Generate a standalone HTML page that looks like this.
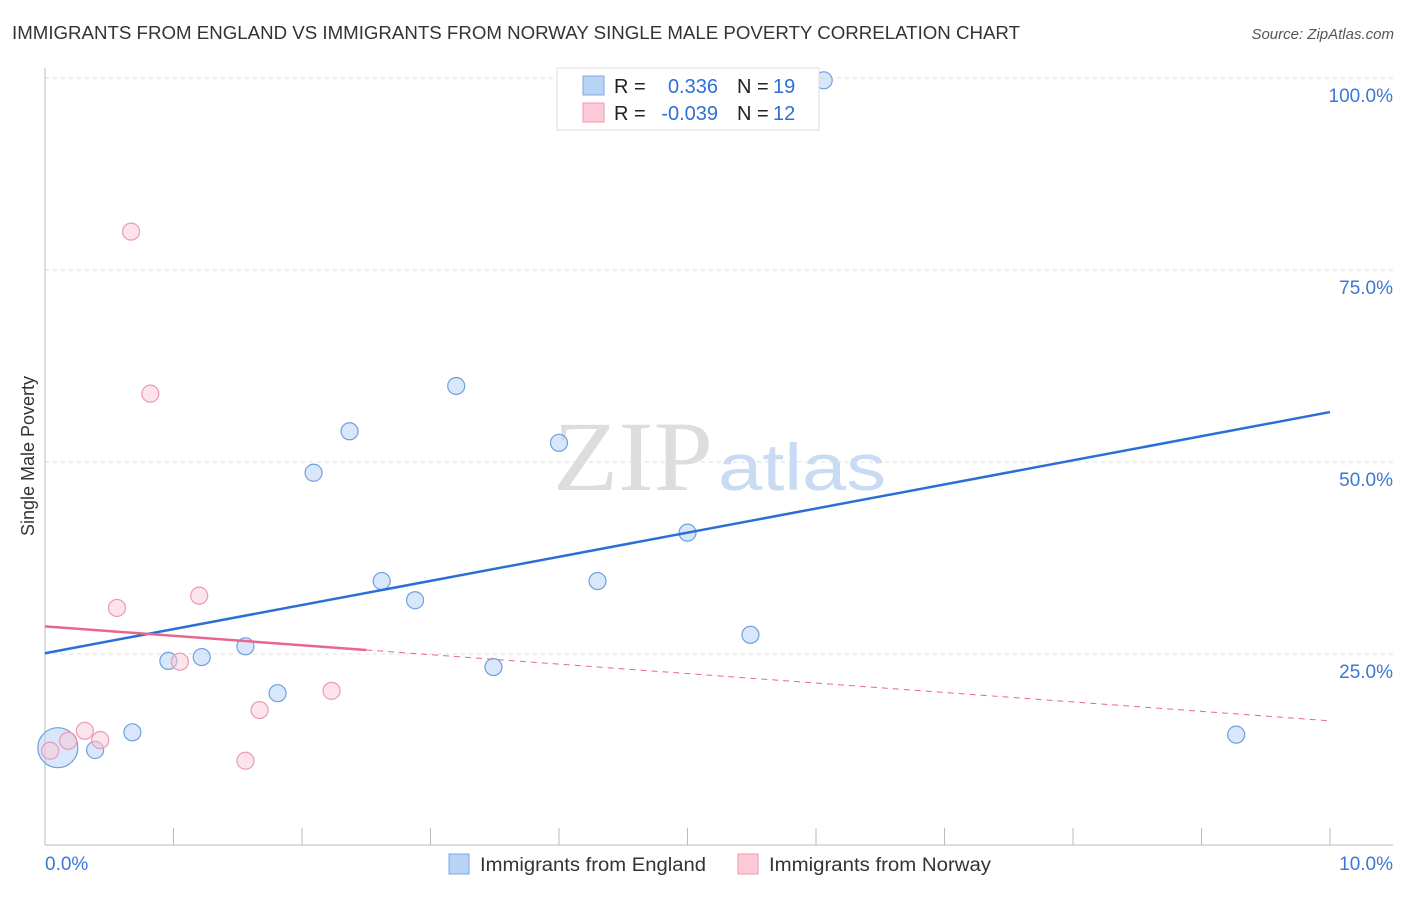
<!DOCTYPE html>
<html><head><meta charset="utf-8"><style>
body{margin:0;background:#fff;font-family:"Liberation Sans",sans-serif}
</style></head><body>
<svg id="c" width="1406" height="892" xmlns="http://www.w3.org/2000/svg">
<text x="12" y="39" font-size="18" fill="#333" textLength="1008" lengthAdjust="spacingAndGlyphs">IMMIGRANTS FROM ENGLAND VS IMMIGRANTS FROM NORWAY SINGLE MALE POVERTY CORRELATION CHART</text>
<text x="1394" y="39" font-size="15" fill="#555" font-style="italic" text-anchor="end">Source: ZipAtlas.com</text>
<text x="553" y="490" font-size="100" fill="#ddd" font-family="Liberation Serif,serif" textLength="160" lengthAdjust="spacingAndGlyphs">ZIP</text>
<text x="718" y="490" font-size="66" fill="#c9daf3" textLength="168" lengthAdjust="spacingAndGlyphs">atlas</text>
<text transform="translate(34,456) rotate(-90)" font-size="18" fill="#333" text-anchor="middle">Single Male Poverty</text>
<g id="grid"></g><g id="marks"></g>
<rect x="557" y="68" width="262" height="62" fill="#fff" stroke="#ddd"/>
<rect x="583" y="76" width="21" height="19" fill="#b9d3f7" stroke="#7aa7e6"/>
<rect x="583" y="103" width="21" height="19" fill="#fcc9d7" stroke="#eb9ab2"/>
<g font-size="20">
<text x="614" y="93" fill="#222">R =</text><text x="718" y="93" fill="#2f6fd6" text-anchor="end">0.336</text>
<text x="737" y="93" fill="#222">N =</text><text x="773" y="93" fill="#2f6fd6">19</text>
<text x="614" y="120" fill="#222">R =</text><text x="718" y="120" fill="#2f6fd6" text-anchor="end">-0.039</text>
<text x="737" y="120" fill="#222">N =</text><text x="773" y="120" fill="#2f6fd6">12</text>
</g>
<rect x="449" y="854" width="20" height="20" fill="#b9d3f7" stroke="#7aa7e6"/>
<text x="480" y="871" font-size="19" fill="#333" textLength="226" lengthAdjust="spacingAndGlyphs">Immigrants from England</text>
<rect x="738" y="854" width="20" height="20" fill="#fcc9d7" stroke="#eb9ab2"/>
<text x="769" y="871" font-size="19" fill="#333" textLength="222" lengthAdjust="spacingAndGlyphs">Immigrants from Norway</text>
<text x="45" y="870" font-size="19" fill="#3a78d8">0.0%</text>
<text x="1393" y="870" font-size="19" fill="#3a78d8" text-anchor="end">10.0%</text>
</svg>
<script>
const englandX=[0.10,0.39,0.68,0.96,1.22,1.56,1.81,2.09,2.37,2.62,2.88,3.20,3.49,4.00,4.30,5.00,5.49,6.06,9.27];
const englandY=[12.8,12.5,14.8,24.1,24.6,26.0,19.9,48.6,54.0,34.5,32.0,59.9,23.3,52.5,34.5,40.8,27.5,99.7,14.5];
const norwayX=[0.04,0.18,0.31,0.43,0.56,0.67,0.82,1.05,1.20,1.56,1.67,2.23];
const norwayY=[12.4,13.7,15.0,13.8,31.0,80.0,58.9,24.0,32.6,11.1,17.7,20.2];
const yTicks=[25,50,75,100];
const yTickLabels=["25.0%","50.0%","75.0%","100.0%"];
const englandTrend=[25.1,56.5];
const norwayTrend=[28.6,16.3];
const xs=v=>45+v*128.5, ys=v=>846-v*7.68;
const NS="http://www.w3.org/2000/svg";
const grid=document.getElementById('grid'), marks=document.getElementById('marks');
function mk(tag,attrs,parent){const e=document.createElementNS(NS,tag);for(const k in attrs)e.setAttribute(k,attrs[k]);parent.appendChild(e);return e;}
yTicks.forEach((t,i)=>{
 const l=mk('line',{x1:45,x2:1393,y1:ys(t),y2:ys(t),stroke:'#ddd','stroke-dasharray':'4,4'},grid);
 
 
 const tx=mk('text',{x:1393,y:ys(t)+24,'font-size':19,fill:'#3a78d8','text-anchor':'end'},grid);
 tx.textContent=yTickLabels[i];
 
 
});
const ax=mk('line',{x1:45,x2:1393,y1:845,y2:845,stroke:'#bbb'},grid);


const ay=mk('line',{x1:45,x2:45,y1:68,y2:845,stroke:'#bbb'},grid);


for(let i=0;i<=10;i++){const tk=mk('line',{x1:xs(i),x2:xs(i),y1:828,y2:845,stroke:'#bbb'},grid);
 
 }
englandX.forEach((x,i)=>{const c=mk('circle',{cx:xs(x),cy:ys(englandY[i]),r:i===0?20:8.5,fill:'rgba(185,211,247,0.55)',stroke:'#6f9fe0','stroke-width':1.2},marks);
 
 });
norwayX.forEach((x,i)=>{const c=mk('circle',{cx:xs(x),cy:ys(norwayY[i]),r:8.5,fill:'rgba(252,201,215,0.5)',stroke:'#eb9ab2','stroke-width':1.2},marks);
 
 });
const bl=mk('line',{x1:xs(0),y1:ys(englandTrend[0]),x2:xs(10),y2:ys(englandTrend[1]),stroke:'#2a6fd6','stroke-width':2.5},marks);


const pAt=v=>norwayTrend[0]+(norwayTrend[1]-norwayTrend[0])*v/10;
const pl=mk('line',{x1:xs(0),y1:ys(pAt(0)),x2:xs(2.5),y2:ys(pAt(2.5)),stroke:'#e8668f','stroke-width':2.5},marks);


const pd=mk('line',{x1:xs(2.5),y1:ys(pAt(2.5)),x2:xs(10),y2:ys(pAt(10)),stroke:'#e8668f','stroke-width':1,'stroke-dasharray':'6,5'},marks);


</script>
</body></html>
